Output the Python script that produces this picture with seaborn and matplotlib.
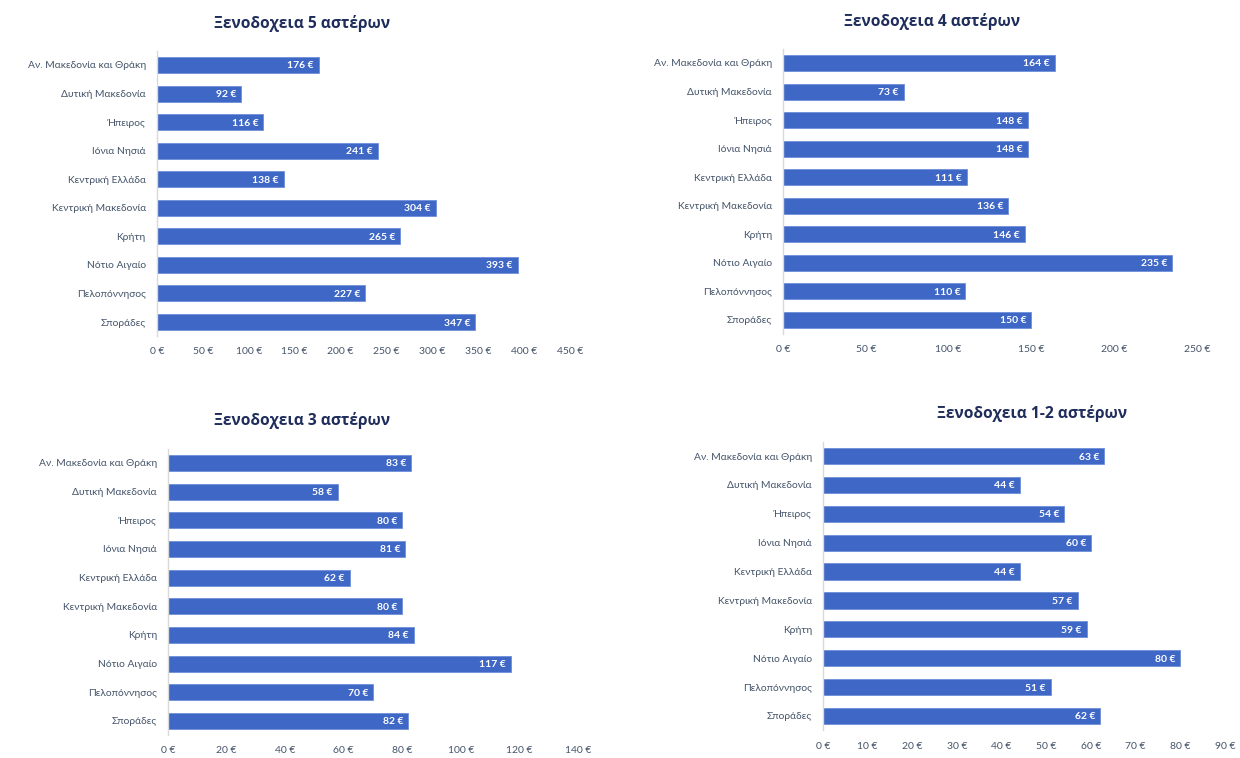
import seaborn as sns
import matplotlib.pyplot as plt
import pandas as pd

regions = ["Αν. Μακεδονία και Θράκη", "Δυτική Μακεδονία", "Ήπειρος", "Ιόνια Νησιά",
           "Κεντρική Ελλάδα", "Κεντρική Μακεδονία", "Κρήτη", "Νότιο Αιγαίο",
           "Πελοπόννησος", "Σποράδες"]
prices_5 = [176, 92, 116, 241, 138, 304, 265, 393, 227, 347]
prices_4 = [164, 73, 148, 148, 111, 136, 146, 235, 110, 150]
prices_3 = [83, 58, 80, 81, 62, 80, 84, 117, 70, 82]
prices_12 = [63, 44, 54, 60, 44, 57, 59, 80, 51, 62]

titles = ["Ξενοδοχεια 5 αστέρων", "Ξενοδοχεια 4 αστέρων",
          "Ξενοδοχεια 3 αστέρων", "Ξενοδοχεια 1-2 αστέρων"]
xmax_list = [450, 250, 140, 90]
xstep_list = [50, 50, 20, 10]

bar_color = "#3E67C6"
label_color = "#44546A"
title_color = "#1F2D5C"

sns.set_theme(style="white")
plt.rcParams['font.family'] = ['Lato', 'DejaVu Sans']

fig = plt.figure(figsize=(12.4, 7.58), dpi=100)
# axes placement (figure fractions) for the four panels
positions = [
    [0.1266, 0.5563, 0.3331, 0.3768],
    [0.6315, 0.5590, 0.3339, 0.3768],
    [0.1355, 0.0300, 0.3306, 0.3782],
    [0.6637, 0.0364, 0.3242, 0.3810],
]
title_xy = [(302, 24), (932, 22), (302, 420), (1032, 413)]

all_prices = [prices_5, prices_4, prices_3, prices_12]
for i in range(4):
    ax = fig.add_axes(positions[i])
    df = pd.DataFrame({"region": regions, "price": all_prices[i]})
    sns.barplot(data=df, y="region", x="price", orient="h", color=bar_color,
                width=0.56, ax=ax, saturation=1, edgecolor="#6F8FD8", linewidth=0.6)
    for p, v in zip(ax.patches, all_prices[i]):
        ax.text(p.get_width() - xmax_list[i] * 0.012, p.get_y() + p.get_height() / 2,
                f"{v} €", color="white", fontsize=7.5, fontweight="bold",
                ha="right", va="center_baseline")
    ax.set_xlim(0, xmax_list[i])
    ticks = list(range(0, xmax_list[i] + 1, xstep_list[i]))
    ax.set_xticks(ticks)
    ax.set_xticklabels([f"{t} €" for t in ticks], fontsize=7.5, color=label_color)
    ax.tick_params(axis="y", labelsize=7.4, labelcolor=label_color, length=0, pad=8)
    ax.tick_params(axis="x", length=0, pad=8)
    ax.set_xlabel("")
    ax.set_ylabel("")
    for s in ["top", "right", "bottom"]:
        ax.spines[s].set_visible(False)
    ax.spines["left"].set_color("#D9D9D9")
    ax.spines["left"].set_linewidth(1)
    tx, ty = title_xy[i]
    fig.text(tx / 1240, 1 - ty / 758, titles[i], ha="center", va="center",
             fontsize=11.2, fontweight="bold", color=title_color,
             family=["Open Sans", "DejaVu Sans"])

plt.savefig("out.png", dpi=100)
